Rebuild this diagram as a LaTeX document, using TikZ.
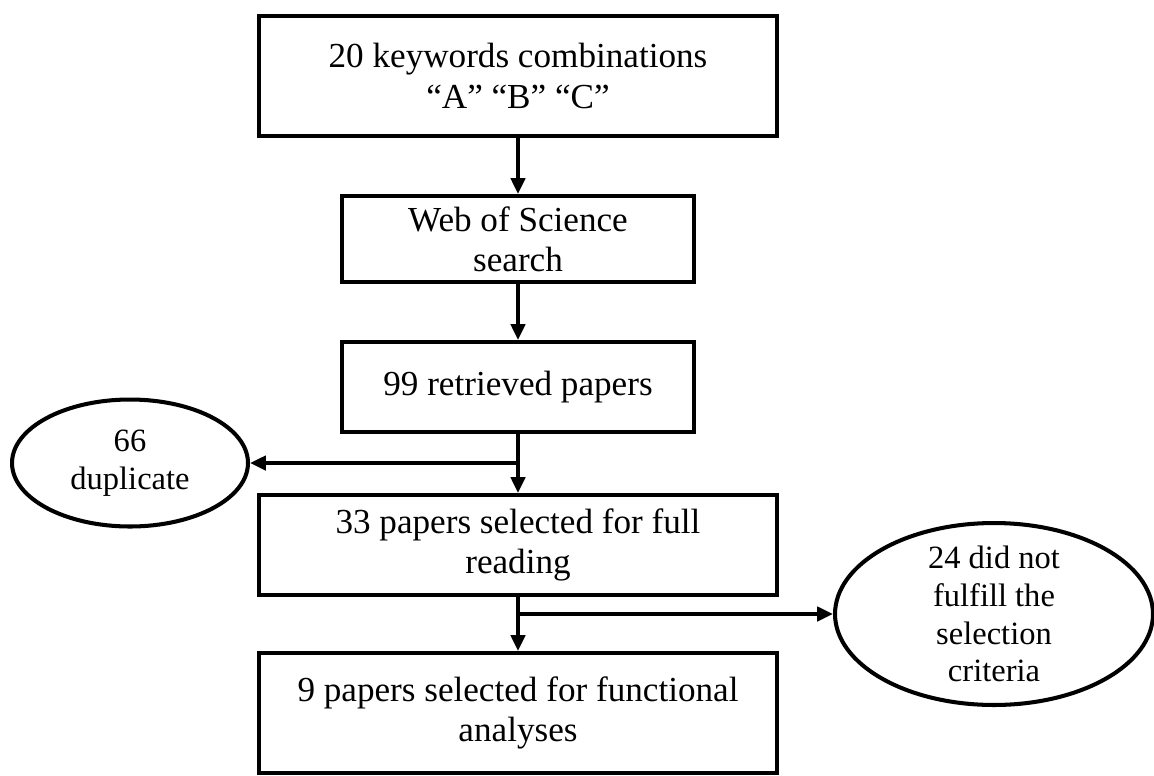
\documentclass[tikz,border=0pt]{standalone}
\usepackage{fontspec}
\setmainfont{Liberation Serif}
\usetikzlibrary{arrows.meta, shapes.geometric}

\begin{document}
\begin{tikzpicture}[x=0.02cm, y=-0.02cm,
  lbl/.style={align=center, font=\fontsize{18.5pt}{21.5pt}\selectfont},
  blk/.style={draw, line width=2.3pt, align=center, font=\fontsize{20pt}{23pt}\selectfont},
  oval/.style={draw, ellipse, line width=2.3pt, inner sep=0pt, lbl},
  arr/.style={line width=2.2pt, -{Triangle[length=9pt, width=8pt]}}]
\useasboundingbox (0,0) rectangle (1154,775);
% main steps
\node[blk, minimum width=10.36cm, minimum height=2.4cm] (kw) at (518,76) {20 keywords combinations\\“A” “B” “C”};
\node[blk, minimum width=7.04cm, minimum height=1.72cm] (wos) at (518,239) {Web of Science\\search};
\node[blk, minimum width=7.04cm, minimum height=1.8cm] (ret) at (518,387) {99 retrieved papers};
\node[blk, minimum width=10.36cm, minimum height=2cm] (full) at (518,545) {33 papers selected for full\\reading};
\node[blk, minimum width=10.36cm, minimum height=2.4cm] (ana) at (518,713) {9 papers selected for functional\\analyses};
% excluded papers
\node[oval, minimum width=4.72cm, minimum height=2.54cm] (dup) at (130,463) {66\\duplicate};
\node[oval, minimum width=6.36cm, minimum height=3.64cm,
  label={[lbl]center:24 did not\\fulfill the\\selection\\criteria}] (crit) at (994,614) {};
% arrows
\draw[arr] (kw) -- (wos);
\draw[arr] (wos) -- (ret);
\draw[arr] (ret) -- (full);
\coordinate (b1) at (ret.south |- dup.east);
\draw[arr] (b1) -- (dup);
\draw[arr] (full) -- (ana);
\coordinate (b2) at (full.south |- crit.west);
\draw[arr] (b2) -- (crit);
\end{tikzpicture}
\end{document}
